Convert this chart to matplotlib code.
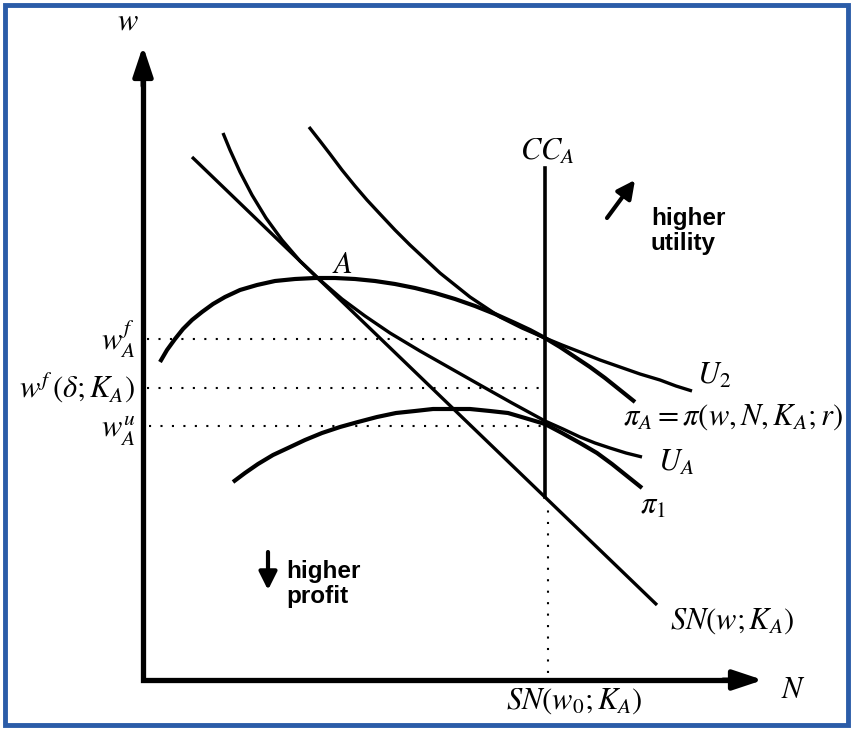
import matplotlib.pyplot as plt
from matplotlib.patches import Rectangle

plt.rcParams["mathtext.fontset"] = "stix"
plt.rcParams["font.family"] = "STIXGeneral"

# curves (pixel coords, y grows downward)
u2_x = [309, 320, 330, 342, 355, 367, 380, 395, 410, 425, 440, 455, 470, 485, 500, 522, 545,
        562, 580, 600, 620, 640, 660, 676, 692]
u2_y = [127, 141, 154, 170, 186, 200, 214, 230, 245, 259, 273, 285, 297, 307, 317, 328, 338,
        345, 352, 360, 367, 374, 380, 386, 391]

pia_x = [160, 167, 175, 183, 192, 202, 213, 225, 240, 257, 275, 295, 315, 335, 355, 375, 395,
         415, 435, 455, 475, 495, 515, 530, 545, 560, 575, 590, 605, 620, 635]
pia_y = [362, 350, 339, 329, 320, 312, 304, 297, 290, 285, 281, 279, 278, 278, 279, 281, 284,
         288, 293, 299, 306, 314, 323, 330, 338, 347, 357, 367, 378, 390, 402]

ua_x = [223, 230, 240, 252, 266, 282, 300, 320, 342, 365, 390, 420, 450, 480, 512, 545, 563,
        580, 595, 610, 626, 642]
ua_y = [133, 150, 172, 195, 218, 240, 261, 280, 299, 316, 333, 351, 368, 385, 403, 421, 429,
        437, 443, 448, 453, 457]

pi1_x = [233, 245, 258, 273, 288, 305, 322, 340, 358, 377, 396, 415, 433, 450, 470, 490, 508,
         525, 545, 562, 580, 597, 612, 627, 642]
pi1_y = [482, 473, 464, 455, 448, 440, 433, 427, 422, 417, 413, 411, 409, 409, 409, 411, 413,
         418, 424, 433, 443, 453, 464, 476, 488]

sn_x = [192, 657]
sn_y = [157, 605]

cc_x = 545
cc_top, cc_bottom = 168, 497

# levels marked on the w axis
wf_a = 339
wf_delta = 388
wu_a = 426
sn_w0 = 548

# axes origin and arrow ends
x0, y0 = 143, 680
x_end, y_end = 763, 46

fig = plt.figure(figsize=(8.53, 7.31), dpi=100)
ax = fig.add_axes([0, 0, 1, 1])
ax.set_xlim(0, 853)
ax.set_ylim(731, 0)
ax.axis("off")

ax.add_patch(Rectangle((5, 5), 843, 720, fill=False, ec="#2b5ca8", lw=3.5))

# axes
ax.plot([x0, x0, x_end - 20], [y_end + 20, y0, y0], color="k", lw=3.8,
        solid_joinstyle="miter", solid_capstyle="butt")
arrow = dict(arrowstyle="-|>,head_length=0.9,head_width=0.3", color="k",
             lw=3.5, mutation_scale=20, shrinkA=0, shrinkB=0)
ax.annotate("", xy=(x0, y_end), xytext=(x0, y_end + 40), arrowprops=arrow)
ax.annotate("", xy=(x_end, y0), xytext=(x_end - 40, y0), arrowprops=arrow)

# curves
ax.plot(u2_x, u2_y, color="k", lw=2.4, solid_capstyle="butt")
ax.plot(pia_x, pia_y, color="k", lw=3.0, solid_capstyle="butt")
ax.plot(ua_x, ua_y, color="k", lw=2.4, solid_capstyle="butt")
ax.plot(pi1_x, pi1_y, color="k", lw=3.0, solid_capstyle="butt")
ax.plot(sn_x, sn_y, color="k", lw=2.4, solid_capstyle="butt")
ax.plot([cc_x, cc_x], [cc_top, cc_bottom], color="k", lw=2.6)

# dotted guides
dots = dict(color="k", lw=1.5, linestyle=(0, (1, 4.5)))
ax.plot([x0 + 4, cc_x], [wf_a, wf_a], **dots)
ax.plot([x0 + 4, cc_x], [wf_delta, wf_delta], **dots)
ax.plot([x0 + 6, cc_x], [wu_a, wu_a], **dots)
ax.plot([sn_w0, sn_w0], [cc_bottom + 2, y0 - 3], **dots)

# labels
fs = 22
ax.text(128, 29, r"$w$", fontsize=fs, ha="center", va="baseline")
ax.text(793, 698, r"$N$", fontsize=fs, ha="center", va="baseline")
ax.text(547, 160, r"$CC_A$", fontsize=fs, ha="center", va="baseline")
ax.text(332, 273, r"$A$", fontsize=fs, ha="left", va="baseline")
ax.text(135, 350, r"$w_A^f$", fontsize=fs, ha="right", va="baseline")
ax.text(135, 398, r"$w^f\,(\delta;K_A)$", fontsize=fs, ha="right", va="baseline")
ax.text(135, 438, r"$w_A^u$", fontsize=fs, ha="right", va="baseline")
ax.text(697, 384, r"$U_2$", fontsize=fs, ha="left", va="baseline")
ax.text(623, 425, r"$\pi_A = \pi(w, N, K_A; r)$", fontsize=fs, ha="left", va="baseline")
ax.text(658, 471, r"$U_A$", fontsize=fs, ha="left", va="baseline")
ax.text(640, 514, r"$\pi_1$", fontsize=fs, ha="left", va="baseline")
ax.text(670, 629, r"$SN(w; K_A)$", fontsize=fs, ha="left", va="baseline")
ax.text(506, 709, r"$SN(w_0; K_A)$", fontsize=fs, ha="left", va="baseline")

bold = dict(fontsize=17.5, fontweight="bold", family="Liberation Sans",
            ha="left", va="baseline")
ax.text(651, 225, "higher", **bold)
ax.text(651, 250, "utility", **bold)
ax.text(286, 578, "higher", **bold)
ax.text(286, 603, "profit", **bold)

small = dict(arrowstyle="-|>,head_length=0.6,head_width=0.3", color="k",
             lw=3, mutation_scale=18, shrinkA=0, shrinkB=0)
ax.annotate("", xy=(635, 180), xytext=(607, 218), arrowprops=small)
ax.annotate("", xy=(268, 590), xytext=(268, 552), arrowprops=small)

fig.savefig("out.png", dpi=100)
